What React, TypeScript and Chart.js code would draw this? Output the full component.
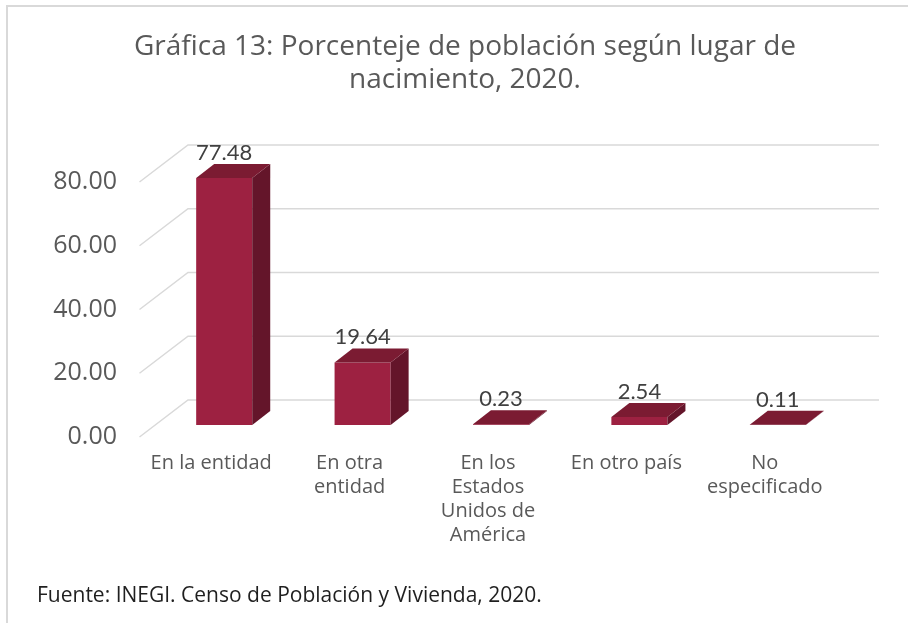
import React, { useEffect, useRef } from "react";
import { Chart, registerables } from "chart.js";

Chart.register(...registerables);

// ---- data ----
const categories: string[][] = [
  ["En la entidad"],
  ["En otra", "entidad"],
  ["En los", "Estados", "Unidos de", "América"],
  ["En otro país"],
  ["No", "especificado"],
];
const values: number[] = [77.48, 19.64, 0.23, 2.54, 0.11];
const yMin = 0;
const yMax = 80;
const yStep = 20;
const titleLines: string[] = [
  "Gráfica 13: Porcenteje de población según lugar de",
  "nacimiento, 2020.",
];
const sourceNote = "Fuente: INEGI. Censo de Población y Vivienda, 2020.";

// ---- styles ----
const FONT = "'Open Sans', Lato, sans-serif";
const NUMFONT = "Lato, 'Open Sans', sans-serif";
const FRONT = "#9d2141";
const TOP = "#7b1b32";
const SIDE = "#64152a";
const GRID = "#d9d9d9";
const TEXT = "#595959";

const BAR_DX = 18;
const BAR_DY = -14;

const threeDPlugin = {
  id: "threeD",
  beforeDatasetsDraw(chart: any) {
    const { ctx, chartArea, scales } = chart;
    const ys = scales.y;
    ctx.save();
    ctx.strokeStyle = GRID;
    ctx.lineWidth = 1.5;
    ys.ticks.forEach((t: any) => {
      const py = ys.getPixelForValue(t.value);
      ctx.beginPath();
      ctx.moveTo(chartArea.left - 15.5, py + 12);
      ctx.lineTo(chartArea.left + 33, py - 25);
      ctx.lineTo(chartArea.right + 32, py - 25);
      ctx.stroke();
    });
    ctx.restore();
  },
  afterDatasetsDraw(chart: any) {
    const { ctx } = chart;
    const meta = chart.getDatasetMeta(0);
    const ys = chart.scales.y;
    ctx.save();
    meta.data.forEach((bar: any, i: number) => {
      const { x, y, base, width } = bar.getProps(["x", "y", "base", "width"], true);
      const l = x - width / 2;
      const r = x + width / 2;
      ctx.fillStyle = SIDE;
      ctx.beginPath();
      ctx.moveTo(r, y);
      ctx.lineTo(r + BAR_DX, y + BAR_DY);
      ctx.lineTo(r + BAR_DX, base + BAR_DY);
      ctx.lineTo(r, base);
      ctx.closePath();
      ctx.fill();
      ctx.fillStyle = TOP;
      ctx.beginPath();
      ctx.moveTo(l, y);
      ctx.lineTo(l + BAR_DX, y + BAR_DY);
      ctx.lineTo(r + BAR_DX, y + BAR_DY);
      ctx.lineTo(r, y);
      ctx.closePath();
      ctx.fill();
      ctx.fillStyle = "#404040";
      ctx.font = `22px ${NUMFONT}`;
      ctx.textAlign = "center";
      ctx.textBaseline = "middle";
      ctx.fillText(values[i].toFixed(2), x, ys.getPixelForValue(values[i]) - 25);
    });
    ctx.restore();
  },
  afterDraw(chart: any) {
    const { ctx } = chart;
    ctx.save();
    ctx.fillStyle = "#1f1f1f";
    ctx.font = `21px ${FONT}`;
    ctx.textAlign = "left";
    ctx.textBaseline = "middle";
    ctx.fillText(sourceNote, 37, 596);
    ctx.restore();
  },
};

export default function App() {
  const canvasRef = useRef<HTMLCanvasElement | null>(null);

  useEffect(() => {
    if (!canvasRef.current) return;
    const chart = new Chart(canvasRef.current, {
      type: "bar",
      data: {
        labels: categories,
        datasets: [
          {
            data: values,
            backgroundColor: FRONT,
            borderWidth: 0,
            categoryPercentage: 0.405,
            barPercentage: 1,
          },
        ],
      },
      options: {
        animation: false,
        responsive: false,
        maintainAspectRatio: false,
        layout: { padding: { left: 22, right: 0, top: 0, bottom: 0 } },
        plugins: {
          legend: { display: false },
          tooltip: { enabled: false },
          title: {
            display: true,
            text: titleLines,
            color: TEXT,
            font: { family: FONT, size: 28, weight: "normal", lineHeight: 33 / 28 },
            padding: { top: 31, bottom: 73 },
          },
        },
        scales: {
          x: {
            grid: { display: false, drawTicks: false },
            border: { display: false },
            ticks: {
              color: TEXT,
              font: { family: FONT, size: 20, lineHeight: 24 / 20 },
              padding: 26,
              labelOffset: -13,
              autoSkip: false,
              maxRotation: 0,
              minRotation: 0,
            },
            afterFit: (s: any) => {
              s.height = 198;
            },
          },
          y: {
            min: yMin,
            max: yMax,
            grid: { display: false, drawTicks: false },
            border: { display: false },
            ticks: {
              stepSize: yStep,
              color: TEXT,
              font: { family: FONT, size: 25 },
              padding: 38,
              labelOffset: 12,
              callback: (v: any) => Number(v).toFixed(2),
            },
            afterFit: (s: any) => {
              s.width = 133;
            },
          },
          yRight: {
            position: "right",
            display: true,
            min: yMin,
            max: yMax,
            grid: { display: false, drawTicks: false },
            border: { display: false },
            ticks: { display: false },
            afterFit: (s: any) => {
              s.width = 61;
            },
          },
        },
      },
      plugins: [threeDPlugin],
    });
    return () => chart.destroy();
  }, []);

  return (
    <div
      style={{
        position: "fixed",
        left: 0,
        top: 0,
        width: 908,
        height: 623,
        overflow: "hidden",
        background: "#fff",
      }}
    >
      <div
        style={{
          position: "absolute",
          left: 6,
          top: 5,
          width: 940,
          height: 660,
          border: `2px solid ${GRID}`,
          boxSizing: "border-box",
        }}
      />
      <canvas
        ref={canvasRef}
        width={908}
        height={623}
        style={{ position: "absolute", left: 0, top: 0, width: 908, height: 623 }}
      />
    </div>
  );
}
